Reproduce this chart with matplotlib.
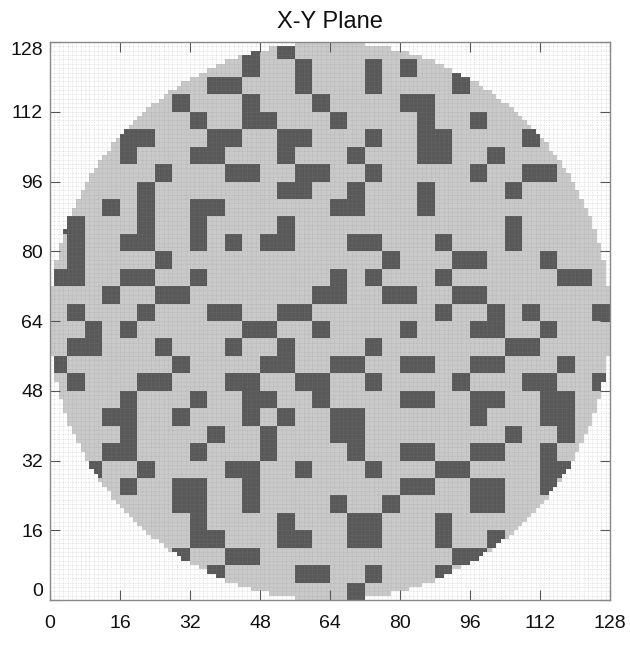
import numpy as np
import matplotlib
matplotlib.use("Agg")
import matplotlib.pyplot as plt
from matplotlib.ticker import MultipleLocator

plt.rcParams['font.family'] = ['Liberation Sans', 'DejaVu Sans']

# 32x32 block map (each block = 4x4 units), top row (y 124-128) first; '#' = dark
block_rows = [
    "...........#.#..................",  # 31
    "...........#..#...#.#..#........",  # 30
    ".........##...#...#....#........",  # 29
    ".......#...#...#....##..........",  # 28
    "........#..##...#....#..#.......",  # 27
    "....##...##..##...#..##....#....",  # 26
    "....#...##...#...#...##..#......",  # 25
    "......#...##..##..#.....#..##...",  # 24
    ".....#.......##..#...#....#.....",  # 23
    "...#.#..##......##...#..........",  # 22
    "##...#..#....#............#.....",  # 21
    ".#..##..#.#.##...##...#...#.....",  # 20
    ".#....#............#...##...#...",  # 19
    "##..##..#.......#.#...#......##.",  # 18
    "...#..##.......##..##..##.......",  # 17
    ".#...#...##..##.......#..#.#...#",  # 16
    "..#.#......##..#....#...##..#...",  # 15
    ".##...#...#..#....#.......##....",  # 14
    "#......#....##..##..##..##...#..",  # 13
    ".#...##...##..##..#....#...##..#",  # 12
    "....#...#..##..#....##..##..##..",  # 11
    "...##..#...#.#..##......#...##..",  # 10
    "....#....#..#...##........#..#..",  # 9
    "...##...#...#....#..##..##..#...",  # 8
    "..#..#....##..#...#...##....##..",  # 7
    "....#..##..#........##..##..#...",  # 6
    ".......##..#....#..#....##......",  # 5
    "........#....#...##...#.........",  # 4
    "........##...##..##...#..#......",  # 3
    ".......#..##...........##.......",  # 2
    ".........#....##..#...#.........",  # 1
    ".................#..............",  # 0
]

title = "X-Y Plane"
tick_values = [0, 16, 32, 48, 64, 80, 96, 112, 128]
n_units = 128
block = 4

# build image
blocks = np.array([[c == '#' for c in r] for r in block_rows[::-1]], dtype=float)
dark = np.kron(blocks, np.ones((block, block)))  # rows = y (from bottom)
yy, xx = np.mgrid[0:n_units, 0:n_units] + 0.5
inside = (xx - 64) ** 2 + (yy - 64) ** 2 <= 64 ** 2

c_out = np.array([1.0, 1.0, 1.0])
c_light = np.array([0.79, 0.79, 0.79])
c_dark = np.array([0.35, 0.35, 0.35])
img = np.ones((n_units, n_units, 3)) * c_out
img[inside] = c_light
img[inside & (dark > 0)] = c_dark

fig = plt.figure(figsize=(6.3, 6.45), dpi=100)
ax = fig.add_axes([50 / 630, 1 - 600 / 645, 560 / 630, 558 / 645])
ax.imshow(img, origin='lower', extent=[0, n_units, 0, n_units],
          interpolation='nearest', aspect='auto', zorder=0)
ax.set_xlim(0, n_units)
ax.set_ylim(0, n_units)

ax.set_xticks(tick_values)
ax.set_yticks(tick_values)
ax.xaxis.set_minor_locator(MultipleLocator(1))
ax.yaxis.set_minor_locator(MultipleLocator(1))
ax.tick_params(which='minor', length=0)
ax.tick_params(which='major', direction='in', length=7, width=0.8,
               color='#555555', top=True, right=True, labelsize=14,
               labelcolor='#111111')
ax.tick_params(axis='x', which='major', pad=11)
ax.tick_params(axis='y', which='major', pad=5)
ax.grid(which='both', color='#8a8a8a', linestyle=(0, (1, 1.6)),
        linewidth=0.45, alpha=0.45)
for s in ax.spines.values():
    s.set_color('#888888')
    s.set_linewidth(1.0)

ylabels = ax.get_yticklabels()
ylabels[0].set_va('bottom')
ylabels[-1].set_va('top')

ax.set_title(title, fontsize=17, pad=10, color='#111111')

fig.savefig('out.png', dpi=100)
